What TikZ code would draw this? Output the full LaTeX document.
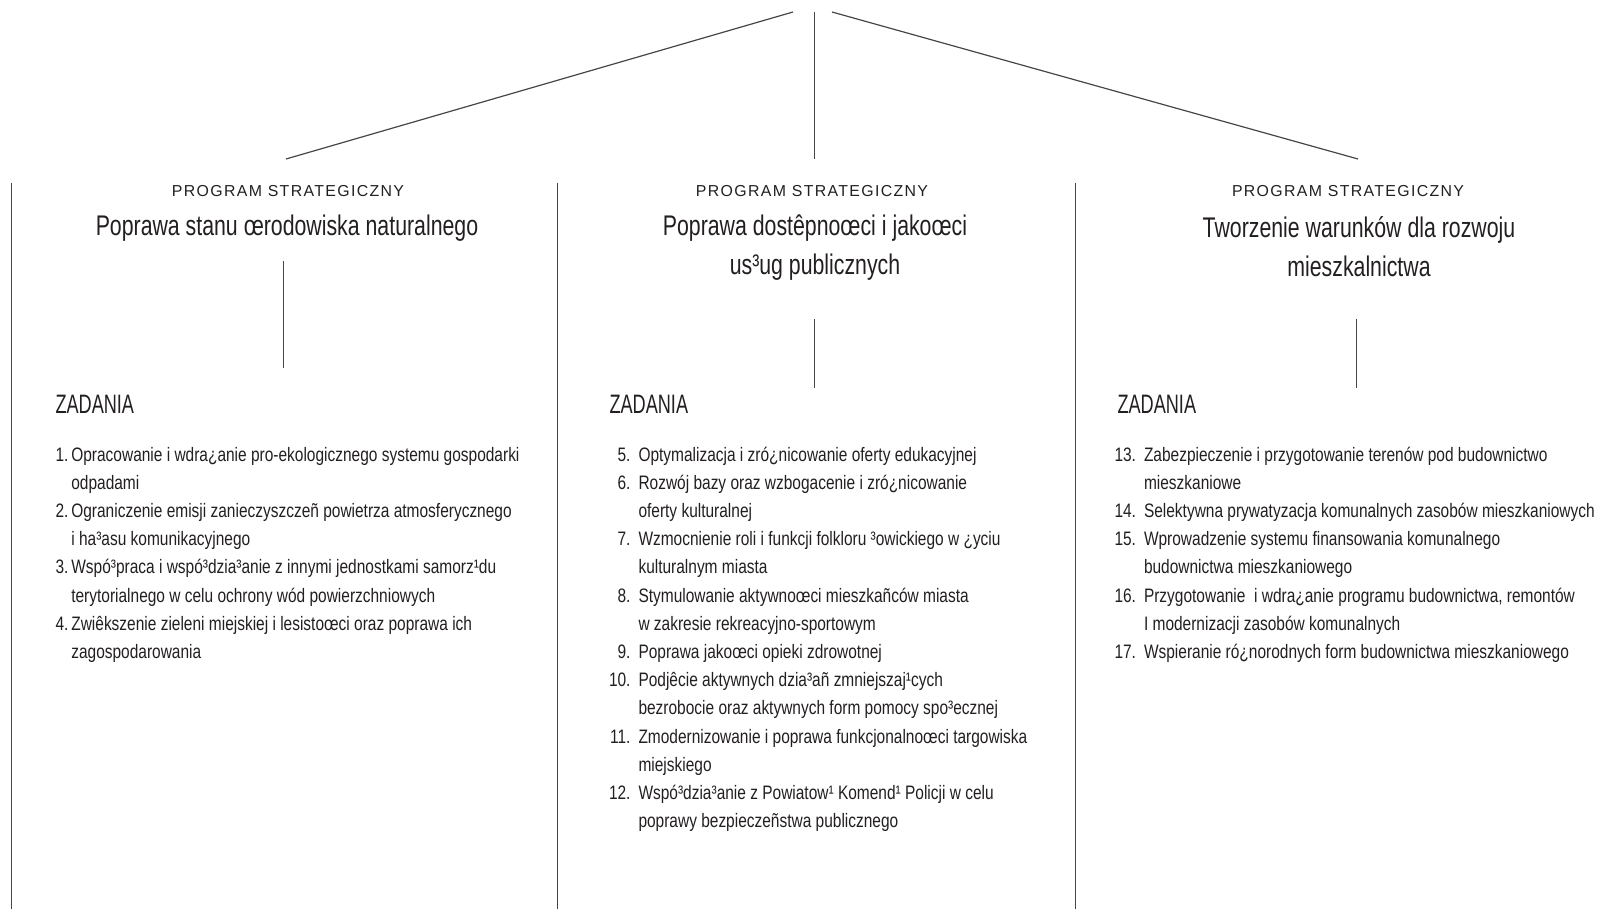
\documentclass[tikz,border=0pt]{standalone}
\usepackage{fontspec}
\setmainfont{Liberation Sans}
\newfontfamily\narrowfont[FakeStretch=0.75]{Liberation Sans}
\newfontfamily\listfont[FakeStretch=0.795]{Liberation Sans}
\newfontfamily\headfontface[FakeStretch=0.68]{Liberation Sans}
\newfontfamily\spacedfont[LetterSpace=8.5]{Liberation Sans}

\definecolor{inkgray}{RGB}{35,31,32}
\definecolor{rulegray}{RGB}{70,70,70}

\tikzset{every picture/.style={line width=0.75pt}}
\tikzset{
  progfont/.style={font=\spacedfont\fontsize{11.9}{14}\selectfont},
  titlefont/.style={font=\narrowfont\fontsize{21.3}{29.2}\selectfont},
  headfont/.style={font=\headfontface\fontsize{20}{24}\selectfont},
  itemfont/.style={font=\listfont\fontsize{14.6}{21.15}\selectfont},
  linkline/.style={color=rulegray,line width=0.9pt},
  sepline/.style={color=rulegray,line width=0.6pt},
}

\begin{document}
\begin{tikzpicture}[x=0.75pt,y=0.75pt,yscale=-1,xscale=1,text=inkgray]
\path[use as bounding box] (0,0) rectangle (1601,909);

% top branches
\coordinate (apexL) at (793,12);
\coordinate (apexM) at (814,12);
\coordinate (apexR) at (832,12);
\coordinate (footL) at (286,159);
\coordinate (footM) at (814,159);
\coordinate (footR) at (1358,159);
\draw [linkline] (apexL) -- (footL);
\draw [sepline] (apexM) -- (footM);
\draw [linkline] (apexR) -- (footR);

% column separators
\coordinate (sepA) at (11.5,183);
\coordinate (sepB) at (557,183);
\coordinate (sepC) at (1075.5,183);
\draw [sepline] (sepA) -- (sepA |- 0,909);
\draw [sepline] (sepB) -- (sepB |- 0,909);
\draw [sepline] (sepC) -- (sepC |- 0,909);

% Text Node
\draw (288,197) node [anchor=base][inner sep=0pt][progfont] (progL) {PROGRAM STRATEGICZNY};
% Text Node
\draw (812,197) node [anchor=base][inner sep=0pt][progfont] (progM) {PROGRAM STRATEGICZNY};
% Text Node
\draw (1348,197) node [anchor=base][inner sep=0pt][progfont] (progR) {PROGRAM STRATEGICZNY};

% Text Node
\draw (287,236) node [anchor=base][inner sep=0pt][titlefont] (titleL) {Poprawa stanu œrodowiska naturalnego};
% Text Node
\draw (815,236) node [anchor=base][inner sep=0pt][titlefont] (titleM) {\begin{tabular}[t]{@{}c@{}}Poprawa dostêpnoœci i jakoœci\\us³ug publicznych\end{tabular}};
% Text Node
\draw (1359,238) node [anchor=base][inner sep=0pt][titlefont] (titleR) {\begin{tabular}[t]{@{}c@{}}Tworzenie warunków dla rozwoju\\mieszkalnictwa\end{tabular}};

% title to tasks
\coordinate (stemL1) at (283,261);
\coordinate (stemL2) at (283,368);
\coordinate (stemM1) at (814,319);
\coordinate (stemM2) at (814,388);
\coordinate (stemR1) at (1356,319);
\coordinate (stemR2) at (1356,388);
\draw [sepline] (stemL1) -- (stemL2);
\draw [sepline] (stemM1) -- (stemM2);
\draw [sepline] (stemR1) -- (stemR2);

% Text Node
\draw (55,413) node [anchor=base west][inner sep=0pt][headfont] (zadL) {ZADANIA};
% Text Node
\draw (609,413) node [anchor=base west][inner sep=0pt][headfont] (zadM) {ZADANIA};
% Text Node
\draw (1117,413) node [anchor=base west][inner sep=0pt][headfont] (zadR) {ZADANIA};

% Text Node
\draw (55,461) node [anchor=base west][inner sep=0pt][itemfont] (listL) {\begin{tabular}[t]{@{}r@{\hspace{2.2pt}}l@{}}
1. & Opracowanie i wdra¿anie pro-ekologicznego systemu gospodarki\\
   & odpadami\\
2. & Ograniczenie emisji zanieczyszczeñ powietrza atmosferycznego\\
   & i ha³asu komunikacyjnego\\
3. & Wspó³praca i wspó³dzia³anie z innymi jednostkami samorz¹du\\
   & terytorialnego w celu ochrony wód powierzchniowych\\
4. & Zwiêkszenie zieleni miejskiej i lesistoœci oraz poprawa ich\\
   & zagospodarowania
\end{tabular}};
% Text Node
\draw (608.5,461) node [anchor=base west][inner sep=0pt][itemfont] (listM) {\begin{tabular}[t]{@{}r@{\hspace{6pt}}l@{}}
5. & Optymalizacja i zró¿nicowanie oferty edukacyjnej\\
6. & Rozwój bazy oraz wzbogacenie i zró¿nicowanie\\
   & oferty kulturalnej\\
7. & Wzmocnienie roli i funkcji folkloru ³owickiego w ¿yciu\\
   & kulturalnym miasta\\
8. & Stymulowanie aktywnoœci mieszkañców miasta\\
   & w zakresie rekreacyjno-sportowym\\
9. & Poprawa jakoœci opieki zdrowotnej\\
10. & Podjêcie aktywnych dzia³añ zmniejszaj¹cych\\
   & bezrobocie oraz aktywnych form pomocy spo³ecznej\\
11. & Zmodernizowanie i poprawa funkcjonalnoœci targowiska\\
   & miejskiego\\
12. & Wspó³dzia³anie z Powiatow¹ Komend¹ Policji w celu\\
   & poprawy bezpieczeñstwa publicznego
\end{tabular}};
% Text Node
\draw (1114,461) node [anchor=base west][inner sep=0pt][itemfont] (listR) {\begin{tabular}[t]{@{}r@{\hspace{6pt}}l@{}}
13. & Zabezpieczenie i przygotowanie terenów pod budownictwo\\
   & mieszkaniowe\\
14. & Selektywna prywatyzacja komunalnych zasobów mieszkaniowych\\
15. & Wprowadzenie systemu finansowania komunalnego\\
   & budownictwa mieszkaniowego\\
16. & Przygotowanie\ \ i wdra¿anie programu budownictwa, remontów\\
   & I modernizacji zasobów komunalnych\\
17. & Wspieranie ró¿norodnych form budownictwa mieszkaniowego
\end{tabular}};

\end{tikzpicture}
\end{document}
